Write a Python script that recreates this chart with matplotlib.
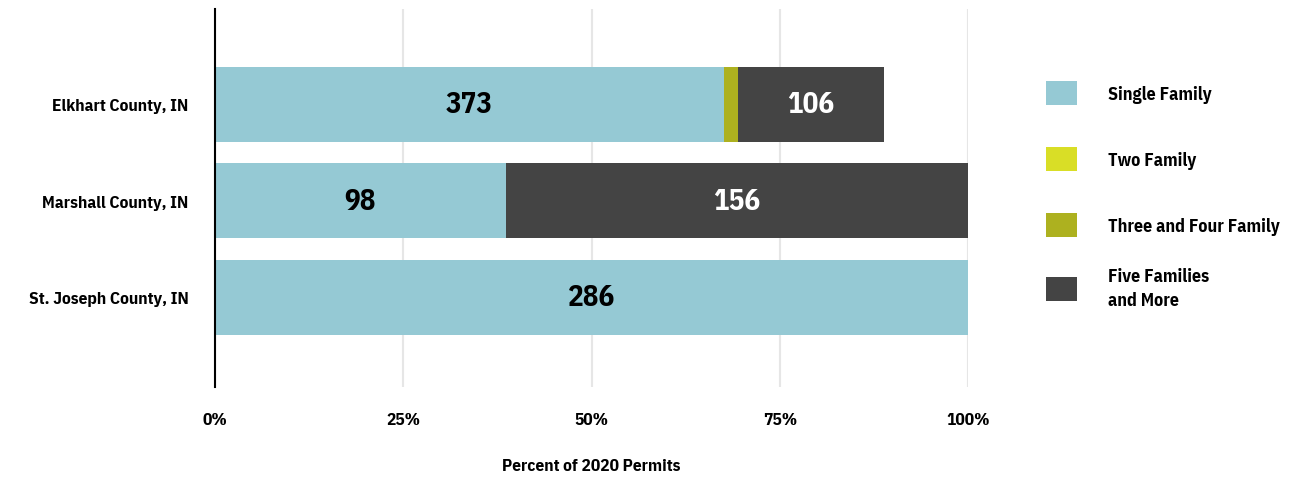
import matplotlib
matplotlib.use("Agg")
import matplotlib.pyplot as plt
from matplotlib.patches import Patch
from matplotlib.ticker import FuncFormatter
import numpy as np

plt.rcParams['font.family'] = ['IBM Plex Sans Condensed', 'DejaVu Sans']

counties = ["Elkhart County, IN", "Marshall County, IN", "St. Joseph County, IN"]
series = ["Single Family", "Two Family", "Three and Four Family", "Five Families\nand More"]
colors = ["#95C9D4", "#D9DE26", "#ADB11F", "#444444"]
# percent of 2020 permits per county, per series
single_pct = [67.6, 38.6, 100.0]
two_pct = [0.0, 0.0, 0.0]
three_four_pct = [1.8, 0.0, 0.0]
five_plus_pct = [19.5, 61.4, 0.0]
# permit counts shown on bars
single_cnt = [373, 98, 286]
five_plus_cnt = [106, 156, None]
xticks = [0, 25, 50, 75, 100]

fig = plt.figure(figsize=(13.04, 4.81), dpi=100)
ax = fig.add_axes([215/1304, 1-388/481, (968-215)/1304, 378/481])

ypos = np.array([2, 1, 0])
h = 0.777
left = np.zeros(3)
for vals, c in zip([single_pct, two_pct, three_four_pct, five_plus_pct], colors):
    v = np.array(vals)
    ax.barh(ypos, v, left=left, height=h, color=c, zorder=3)
    left = left + v

lab_font = dict(fontsize=21, fontweight='bold')
for i in range(3):
    ax.text(single_pct[i] / 2, ypos[i], str(single_cnt[i]), ha='center', va='center',
            color='black', zorder=4, **lab_font)
    if five_plus_cnt[i] is not None:
        start = single_pct[i] + two_pct[i] + three_four_pct[i]
        ax.text(start + five_plus_pct[i] / 2, ypos[i], str(five_plus_cnt[i]), ha='center',
                va='center', color='white', zorder=4, **lab_font)

ax.set_xlim(0, 100)
ax.set_ylim(-0.93, 2.987)
ax.set_xticks(xticks)
ax.xaxis.set_major_formatter(FuncFormatter(lambda v, p: f"{int(v)}%"))
ax.set_yticks(ypos)
ax.set_yticklabels(counties)
ax.tick_params(axis='both', length=0, labelsize=12.5)
ax.tick_params(axis='x', pad=18)
ax.tick_params(axis='y', pad=19)
for lbl in ax.get_xticklabels() + ax.get_yticklabels():
    lbl.set_fontweight('bold')
ax.grid(axis='x', color='#E6E6E6', linewidth=1.5, zorder=0)
for s in ['top', 'right', 'bottom']:
    ax.spines[s].set_visible(False)
ax.spines['left'].set_color('black')
ax.spines['left'].set_linewidth(1.5)
ax.spines['left'].set_zorder(5)
ax.set_xlabel("Percent of 2020 Permits", fontsize=12.5, fontweight='bold', labelpad=22)

handles = [Patch(facecolor=c, edgecolor='none') for c in colors]
leg_kw = dict(loc='upper left', frameon=False, borderpad=0, borderaxespad=0,
              handlelength=1.7, handleheight=1.7, handletextpad=1.75,
              labelspacing=2.3, prop=dict(size=13, weight='bold'))
leg1 = fig.legend(handles[:3], series[:3], bbox_to_anchor=(1046/1304, 1-82/481), **leg_kw)
leg2 = fig.legend(handles[3:], series[3:], bbox_to_anchor=(1046/1304, 1-268/481), **leg_kw)
for t in leg2.get_texts():
    t.set_linespacing(1.45)

fig.savefig("out.png", dpi=100)
